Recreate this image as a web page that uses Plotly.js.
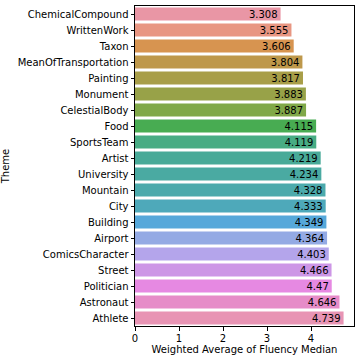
<!DOCTYPE html>
<html>
<head>
<meta charset="utf-8">
<script src="https://cdn.plot.ly/plotly-3.0.1.min.js"></script>
<style>html,body{margin:0;padding:0;background:#fff;}#chart{width:360px;height:358px;}</style>
</head>
<body>
<div id="chart"></div>
<script>
const themes = ["ChemicalCompound","WrittenWork","Taxon","MeanOfTransportation","Painting","Monument","CelestialBody","Food","SportsTeam","Artist","University","Mountain","City","Building","Airport","ComicsCharacter","Street","Politician","Astronaut","Athlete"];
const fluency = [3.308,3.555,3.606,3.804,3.817,3.883,3.887,4.115,4.119,4.219,4.234,4.328,4.333,4.349,4.364,4.403,4.466,4.47,4.646,4.739];
const xTicks = [0,1,2,3,4];
const barColors = ["#e996a5","#e89682","#d79450","#be984b","#a89e48","#98a248","#80a848","#48ac52","#48ac84","#48aa98","#4aaaa2","#4caaac","#4ea9ba","#56a8da","#94aae4","#b4a5eb","#cd96e6","#e689e2","#e68cc8","#e894b4"];

const trace = {
  type:'bar', orientation:'h',
  x: fluency, y: themes,
  marker:{color:barColors, line:{width:0}},
  text: fluency.map(String),
  textposition:'inside', insidetextanchor:'end', constraintext:'none', textangle:0,
  insidetextfont:{family:'DejaVu Sans', size:10, color:'#000'},
  hoverinfo:'none'
};
const layout = {
  width:360, height:358,
  margin:{l:135, r:6, t:6, b:32, pad:0},
  paper_bgcolor:'#fff', plot_bgcolor:'#fff',
  bargap:0.2,
  showlegend:false,
  font:{family:'DejaVu Sans', size:10, color:'#000'},
  xaxis:{
    range:[0, 4.976], tickvals:xTicks, ticktext:xTicks.map(String),
    showgrid:false, zeroline:false,
    showline:true, mirror:true, linecolor:'#000', linewidth:1,
    ticks:'outside', ticklen:3.5, tickcolor:'#000', tickwidth:1,
    ticklabelstandoff:-1,
    tickfont:{family:'DejaVu Sans', size:10, color:'#000'},
    title:{text:'Weighted Average of Fluency Median', font:{family:'DejaVu Sans', size:10, color:'#000'}, standoff:3}
  },
  yaxis:{
    type:'category', categoryorder:'array', categoryarray:themes,
    range:[19.5,-0.5],
    showgrid:false, zeroline:false,
    showline:true, mirror:true, linecolor:'#000', linewidth:1,
    ticks:'outside', ticklen:3.5, tickcolor:'#000', tickwidth:1,
    tickfont:{family:'DejaVu Sans', size:10, color:'#000'},
    title:{text:'Theme', font:{family:'DejaVu Sans', size:10, color:'#000'}, standoff:6}
  }
};
Plotly.newPlot('chart',[trace],layout,{staticPlot:true, displayModeBar:false});
</script>
</body>
</html>
